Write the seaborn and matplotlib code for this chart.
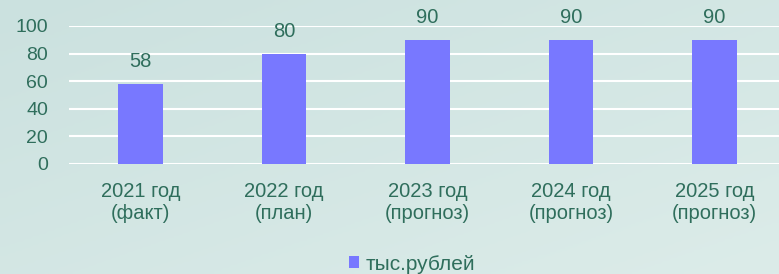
import numpy as np
import pandas as pd
import matplotlib
matplotlib.use("Agg")
import matplotlib.pyplot as plt
import seaborn as sns

categories = ["2021 год\n(факт)", "2022 год\n(план)", "2023 год\n(прогноз)",
              "2024 год\n(прогноз)", "2025 год\n(прогноз)"]
values = [58, 80, 90, 90, 90]
series_name = "тыс.рублей"

df = pd.DataFrame({"cat": categories, "val": values, "series": series_name})

sns.set_style("white")
plt.rcParams["font.family"] = ["Liberation Sans", "DejaVu Sans"]

text_col = "#2f6e5c"
bar_col = "#7878ff"

fig = plt.figure(figsize=(7.79, 2.74), dpi=100)

# background gradient
bg = fig.add_axes([0, 0, 1, 1], zorder=-10)
gy, gx = np.mgrid[0:1:100j, 0:1:200j]
grad = 0.5 * gx + 0.5 * gy
cmap = matplotlib.colors.LinearSegmentedColormap.from_list("bg", ["#cbe1df", "#dcece9"])
bg.imshow(grad, cmap=cmap, aspect="auto", extent=[0, 1, 0, 1])
bg.axis("off")

ax = fig.add_axes([69 / 779, 1 - 164 / 274, 1 - 69 / 779, 138 / 274])
ax.patch.set_alpha(0)
sns.barplot(data=df, x="cat", y="val", hue="series", palette=[bar_col],
            width=0.31, saturation=1, linewidth=0, ax=ax, zorder=3)

ax.set_ylim(0, 100)
ax.set_xlim(-0.5, 4.45)
ax.set_yticks(range(0, 101, 20))
ax.yaxis.grid(True, color="white", linewidth=1.5, zorder=0)
ax.set_axisbelow(True)
for s in ax.spines.values():
    s.set_visible(False)
ax.set_xlabel("")
ax.set_ylabel("")
ax.tick_params(axis="y", length=0, labelsize=14, labelcolor=text_col, pad=15)
ax.tick_params(axis="x", length=0, labelsize=14.5, labelcolor=text_col, pad=13)

for c in ax.containers:
    ax.bar_label(c, labels=[str(v) for v in values], padding=9,
                 fontsize=14.5, color=text_col)

ax.legend(loc="center", bbox_to_anchor=(412 / 779, 10 / 274),
          bbox_transform=fig.transFigure, frameon=False, fontsize=15,
          handlelength=0.5, handleheight=0.5, handletextpad=0.3,
          labelcolor=text_col)

fig.savefig("out.png", dpi=100)
